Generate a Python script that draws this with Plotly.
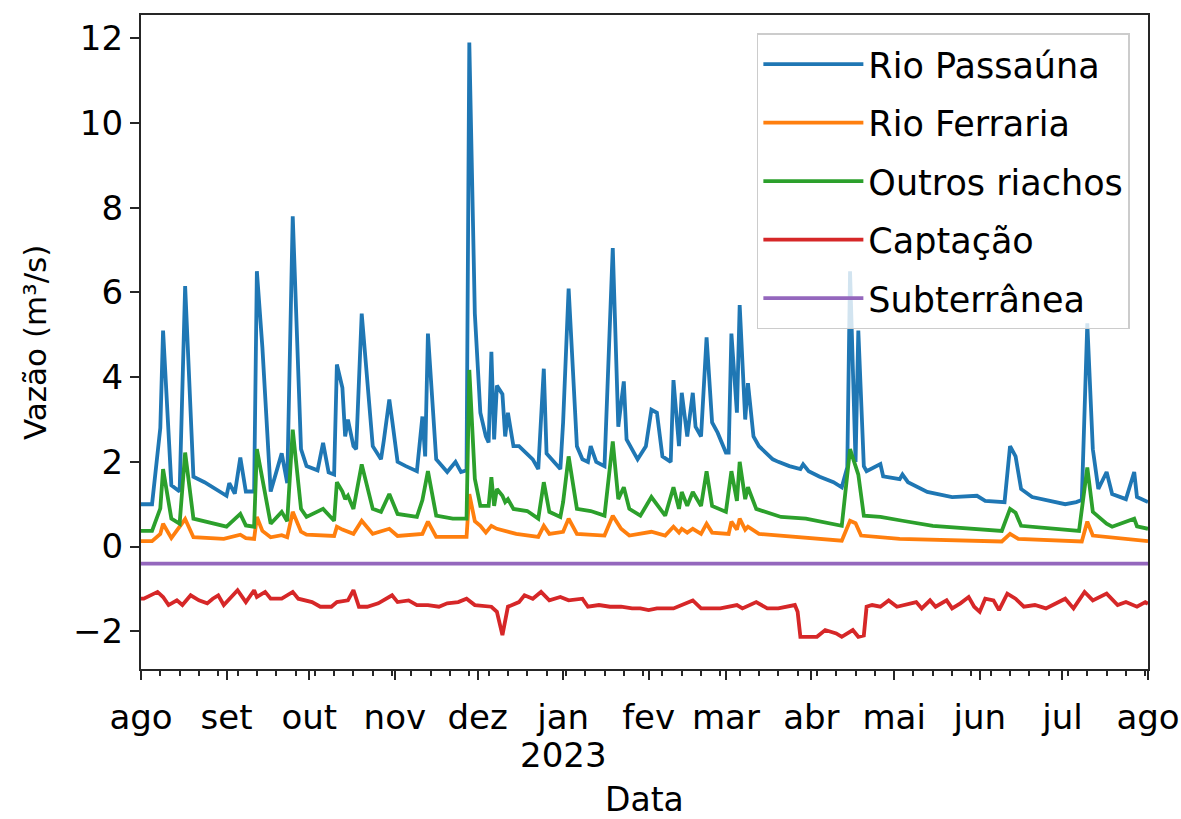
import datetime as dt
import plotly.graph_objects as go

# Série diária de vazões (ago/2022 a ago/2023); dias contados a partir de 01/08/2022
inicio = dt.date(2022, 8, 1)

dias_passauna = [0, 4, 7, 8, 11, 14, 16, 19, 23, 27, 31, 32, 34, 36, 38, 41, 42, 44, 47, 51,
                 53, 55, 58, 60, 64, 66, 68, 70, 71, 73, 74, 75, 77, 78, 80, 84, 87, 88, 90, 91,
                 93, 96, 100, 102, 103, 104, 107, 111, 114, 116, 118, 119, 121, 123, 125, 126,
                 127, 128, 129, 131, 132, 133, 135, 137, 140, 142, 144, 146, 147, 149, 152, 153,
                 155, 158, 160, 162, 163, 165, 168, 171, 173, 175, 176, 180, 183, 185, 187, 189,
                 192, 193, 195, 196, 198, 200, 201, 203, 205, 207, 209, 212, 213, 214, 216, 217,
                 219, 220, 222, 224, 229, 231, 235, 239, 240, 242, 246, 251, 254, 256, 257, 259,
                 260, 262, 263, 268, 269, 275, 276, 278, 285, 294, 303, 306, 313, 315, 317, 319,
                 323, 335, 339, 341, 343, 345, 347, 350, 352, 357, 360, 361, 365]
vazao_passauna = [1.0, 1.0, 2.8, 5.1, 1.45, 1.3, 6.15, 1.65, 1.52, 1.35, 1.2, 1.5, 1.25, 2.1, 1.3,
                  1.3, 6.5, 4.7, 1.3, 2.2, 1.5, 7.8, 2.3, 1.9, 1.8, 2.45, 1.75, 1.7, 4.3, 3.75,
                  2.6, 3.0, 2.37, 2.3, 5.5, 2.37, 2.06, 2.5, 3.47, 3.0, 2.0, 1.9, 1.78, 3.07,
                  2.13, 5.03, 2.06, 1.76, 2.0, 1.76, 1.8, 11.9, 5.5, 3.16, 2.6, 2.46, 4.6, 2.53,
                  3.8, 3.6, 2.6, 3.16, 2.37, 2.37, 2.2, 2.06, 1.83, 4.2, 2.2, 2.06, 1.83, 2.93,
                  6.09, 2.37, 2.06, 2.0, 2.37, 2.0, 1.9, 7.05, 2.83, 3.9, 2.53, 2.06, 2.37, 3.23,
                  3.16, 2.13, 2.0, 3.93, 2.37, 3.63, 2.6, 3.63, 2.83, 2.6, 4.94, 2.93, 2.69, 2.22,
                  2.22, 5.03, 3.16, 5.7, 3.0, 3.86, 2.6, 2.37, 2.06, 2.0, 1.9, 1.83, 1.94, 1.78,
                  1.65, 1.52, 1.4, 1.87, 6.5, 2.0, 5.1, 1.9, 1.78, 1.95, 1.66, 1.59, 1.7, 1.52,
                  1.29, 1.17, 1.2, 1.08, 1.05, 2.37, 2.13, 1.36, 1.17, 1.0, 1.05, 1.1, 5.27, 2.3,
                  1.36, 1.76, 1.24, 1.12, 1.76, 1.17, 1.05]

dias_ferraria = [0, 4, 7, 8, 11, 16, 19, 30, 36, 38, 41, 42, 44, 47, 51, 53, 55, 58, 60, 70, 71,
                 73, 77, 80, 84, 90, 93, 102, 104, 107, 118, 119, 121, 123, 125, 127, 129, 133,
                 136, 144, 146, 148, 153, 155, 158, 168, 171, 174, 177, 185, 190, 193, 195, 196,
                 198, 200, 203, 205, 207, 213, 214, 216, 217, 219, 220, 224, 239, 254, 257, 259,
                 261, 275, 312, 315, 318, 341, 343, 345, 365]
vazao_ferraria = [0.13, 0.13, 0.3, 0.54, 0.2, 0.65, 0.22, 0.18, 0.28, 0.2, 0.18, 0.7, 0.37, 0.22,
                  0.27, 0.22, 0.82, 0.35, 0.28, 0.25, 0.47, 0.4, 0.3, 0.61, 0.3, 0.42, 0.25, 0.3,
                  0.59, 0.23, 0.23, 1.24, 0.6, 0.49, 0.33, 0.49, 0.42, 0.35, 0.3, 0.23, 0.49, 0.3,
                  0.35, 0.66, 0.3, 0.26, 0.73, 0.42, 0.26, 0.35, 0.26, 0.47, 0.33, 0.42, 0.33,
                  0.42, 0.3, 0.54, 0.33, 0.3, 0.59, 0.4, 0.66, 0.4, 0.47, 0.3, 0.23, 0.14, 0.61,
                  0.55, 0.26, 0.18, 0.12, 0.3, 0.18, 0.12, 0.59, 0.26, 0.13]

dias_riachos = [0, 4, 7, 8, 11, 14, 16, 19, 31, 36, 38, 41, 42, 44, 47, 51, 53, 55, 58, 60, 66,
                70, 71, 73, 74, 75, 77, 80, 84, 87, 90, 93, 100, 102, 104, 107, 113, 118, 119,
                121, 123, 126, 127, 128, 129, 131, 132, 133, 135, 140, 144, 146, 148, 152, 153,
                155, 158, 163, 168, 171, 173, 175, 177, 181, 185, 190, 193, 195, 196, 198, 200,
                203, 205, 207, 212, 214, 216, 217, 219, 220, 223, 232, 241, 254, 257, 259, 260,
                262, 268, 276, 287, 312, 315, 317, 319, 340, 343, 345, 350, 352, 360, 361, 365]
vazao_riachos = [0.37, 0.37, 0.9, 1.83, 0.66, 0.54, 2.22, 0.66, 0.47, 0.77, 0.5, 0.47, 2.3, 1.6,
                 0.54, 0.82, 0.6, 2.76, 0.89, 0.7, 0.89, 0.61, 1.52, 1.3, 1.12, 1.2, 0.89, 1.94,
                 0.89, 0.82, 1.24, 0.77, 0.7, 1.1, 1.78, 0.73, 0.66, 0.66, 4.17, 1.6, 0.96, 0.96,
                 1.64, 0.96, 1.36, 1.2, 1.05, 1.12, 0.89, 0.84, 0.66, 1.52, 0.82, 0.7, 1.05, 2.13,
                 0.89, 0.84, 0.73, 2.48, 1.12, 1.4, 0.89, 0.73, 1.17, 0.73, 1.4, 0.89, 1.29, 0.96,
                 1.29, 0.96, 1.78, 0.96, 0.82, 1.78, 1.08, 2.0, 1.12, 1.4, 0.89, 0.7, 0.66, 0.49,
                 2.3, 1.9, 1.7, 0.73, 0.7, 0.61, 0.49, 0.37, 0.89, 0.8, 0.49, 0.37, 1.87, 0.82,
                 0.54, 0.47, 0.66, 0.48, 0.42]

dias_captacao = [0, 1, 6, 8, 10, 13, 15, 18, 21, 24, 26, 28, 30, 33, 35, 38, 41, 42, 45, 47, 51,
                 55, 57, 62, 65, 69, 71, 75, 77, 79, 82, 86, 91, 93, 97, 100, 104, 108, 111, 115,
                 118, 121, 127, 129, 131, 133, 137, 139, 142, 145, 148, 152, 155, 160, 162, 166,
                 170, 174, 178, 181, 184, 187, 193, 200, 203, 210, 216, 218, 223, 227, 231, 237,
                 238, 239, 245, 248, 252, 254, 258, 260, 262, 263, 265, 268, 271, 274, 277, 281,
                 283, 286, 288, 292, 294, 297, 300, 302, 304, 306, 309, 311, 314, 317, 320, 324,
                 328, 332, 335, 338, 342, 345, 350, 354, 357, 361, 364, 365]
vazao_captacao = [-1.23, -1.23, -1.07, -1.19, -1.38, -1.27, -1.38, -1.15, -1.27, -1.34, -1.23,
                  -1.15, -1.38, -1.15, -1.03, -1.31, -1.03, -1.19, -1.07, -1.23, -1.23, -1.07,
                  -1.23, -1.31, -1.42, -1.42, -1.31, -1.27, -1.03, -1.42, -1.42, -1.34, -1.15,
                  -1.31, -1.27, -1.38, -1.38, -1.42, -1.34, -1.31, -1.23, -1.38, -1.42, -1.54,
                  -2.09, -1.42, -1.31, -1.15, -1.23, -1.07, -1.27, -1.19, -1.27, -1.23, -1.42,
                  -1.38, -1.42, -1.42, -1.46, -1.46, -1.50, -1.46, -1.46, -1.27, -1.46, -1.46,
                  -1.38, -1.46, -1.31, -1.46, -1.46, -1.38, -1.54, -2.13, -2.13, -1.97, -2.05,
                  -2.13, -1.97, -2.13, -2.10, -1.42, -1.38, -1.42, -1.27, -1.42, -1.38, -1.31,
                  -1.46, -1.27, -1.42, -1.27, -1.46, -1.34, -1.19, -1.42, -1.54, -1.23, -1.27,
                  -1.50, -1.11, -1.23, -1.42, -1.38, -1.46, -1.34, -1.23, -1.46, -1.07, -1.27,
                  -1.11, -1.38, -1.31, -1.42, -1.31, -1.35]

dias_subterranea = [0, 365]
vazao_subterranea = [-0.40, -0.40]

meses_rotulos = ["ago", "set", "out", "nov", "dez", "jan", "fev", "mar", "abr", "mai", "jun",
                 "jul", "ago"]
meses_datas = ["2022-08-01", "2022-09-01", "2022-10-01", "2022-11-01", "2022-12-01",
               "2023-01-01", "2023-02-01", "2023-03-01", "2023-04-01", "2023-05-01",
               "2023-06-01", "2023-07-01", "2023-08-01"]
y_ticks = [-2, 0, 2, 4, 6, 8, 10, 12]


def datas(dias):
    return [inicio + dt.timedelta(days=d) for d in dias]


series = [
    ("Rio Passaúna", dias_passauna, vazao_passauna, "#1f77b4"),
    ("Rio Ferraria", dias_ferraria, vazao_ferraria, "#ff7f0e"),
    ("Outros riachos", dias_riachos, vazao_riachos, "#2ca02c"),
    ("Captação", dias_captacao, vazao_captacao, "#d62728"),
    ("Subterrânea", dias_subterranea, vazao_subterranea, "#9467bd"),
]

FONTE = "DejaVu Sans"
EIXO = "#262626"
TAM = 34

fig = go.Figure()
for nome, dias, vals, cor in series:
    fig.add_trace(go.Scatter(
        x=datas(dias), y=vals, mode="lines", name=nome, legendgroup=nome,
        line=dict(color=cor, width=3.8),
    ))

fig.update_layout(
    width=1181, height=819,
    margin=dict(l=141, r=33, t=15, b=150, autoexpand=False),
    paper_bgcolor="white", plot_bgcolor="white",
    font=dict(family=FONTE, size=TAM, color="black"),
    showlegend=True,
    legend=dict(
        x=0.982, y=0.972, xanchor="right", yanchor="top",
        bgcolor="rgba(255,255,255,0.8)", bordercolor="#cccccc", borderwidth=1.5,
        font=dict(family=FONTE, size=35, color="black"),
        tracegroupgap=10, itemwidth=100,
    ),
    xaxis=dict(
        range=["2022-08-01", "2023-08-01"], automargin=False,
        tickmode="array", tickvals=meses_datas, ticktext=meses_rotulos,
        ticks="outside", ticklen=9, tickwidth=2, tickcolor=EIXO,
        showline=True, linecolor=EIXO, linewidth=2.2, mirror=True,
        showgrid=False, zeroline=False, ticklabelstandoff=8,
        minor=dict(ticks="outside", ticklen=5, tickwidth=1.5, tickcolor=EIXO,
                   tickmode="linear", tick0="2022-08-01", dtick=7 * 86400000),
        tickfont=dict(size=TAM),
    ),
    yaxis=dict(
        range=[-2.89, 12.55], automargin=False,
        tickmode="array", tickvals=y_ticks,
        ticks="outside", ticklen=9, tickwidth=2, tickcolor=EIXO,
        showline=True, linecolor=EIXO, linewidth=2.2, mirror=True,
        showgrid=False, zeroline=False,
        tickfont=dict(size=TAM),
    ),
    annotations=[
        dict(x="2023-01-01", xref="x", y=-0.131, yref="paper",
             text="2023", showarrow=False, xanchor="center", yanchor="middle",
             font=dict(family=FONTE, size=TAM, color="black")),
        dict(x=0.5, xref="paper", y=-0.199, yref="paper",
             text="Data", showarrow=False, xanchor="center", yanchor="middle",
             font=dict(family=FONTE, size=33, color="black")),
        dict(x=-0.1053, xref="paper", y=0.5, yref="paper", textangle=-90,
             text="Vazão (m³/s)", showarrow=False, xanchor="center", yanchor="middle",
             font=dict(family=FONTE, size=31, color="black")),
    ],
)

fig.write_html("out.html")
